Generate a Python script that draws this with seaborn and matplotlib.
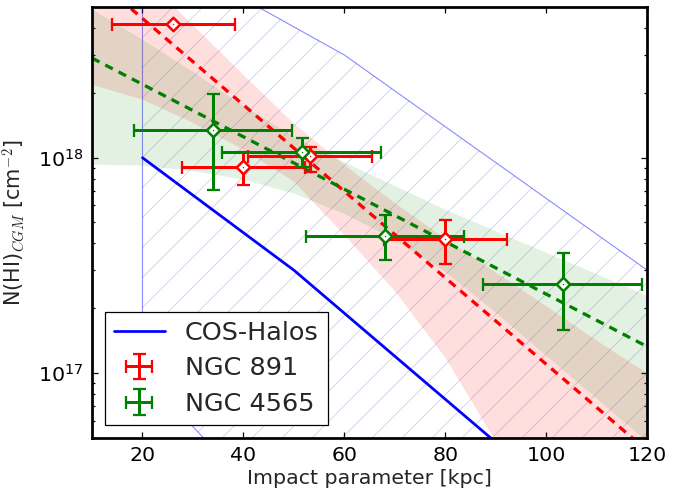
import numpy as np
import matplotlib
matplotlib.use("Agg")
import matplotlib.pyplot as plt
import seaborn as sns

# ---------------- data ----------------
ngc891_x = [26.1, 40.0, 53.2, 80.0]
ngc891_y = [4.18e18, 9.08e17, 1.017e18, 4.18e17]
ngc891_xerr = [12.2, 12.2, 12.2, 12.2]
ngc891_ylo = [4.18e18, 7.46e17, 8.58e17, 3.20e17]
ngc891_yhi = [4.18e18, 1.06e18, 1.116e18, 5.14e17]

ngc4565_x = [34.0, 51.5, 68.0, 103.2]
ngc4565_y = [1.34e18, 1.066e18, 4.34e17, 2.59e17]
ngc4565_xerr = [15.7, 15.7, 15.7, 15.8]
ngc4565_ylo = [7.08e17, 9.04e17, 3.35e17, 1.58e17]
ngc4565_yhi = [1.98e18, 1.24e18, 5.42e17, 3.59e17]

# exponential fits (log10 N at the ends of the x range)
fit_x = [10, 120]
fit891_logN = [18.848, 16.638]
fit4565_logN = [18.463, 17.122]

# confidence bands of the fits (log10 N)
band_x = [10, 20, 30, 40, 50, 60, 70, 80, 90, 100, 110, 120]
band891_hi = [19.076, 18.846, 18.616, 18.385, 18.158, 17.967, 17.789, 17.624, 17.466, 17.310, 17.150, 16.998]
band891_lo = [18.339, 18.270, 18.162, 18.037, 17.889, 17.640, 17.380, 17.070, 16.680, 16.186, 15.500, 15.000]
band4565_hi = [18.69, 18.55, 18.40, 18.24, 18.10, 17.98, 17.87, 17.76, 17.66, 17.56, 17.46, 17.36]
band4565_lo = [17.97, 17.965, 17.94, 17.90, 17.835, 17.74, 17.62, 17.47, 17.28, 17.08, 16.88, 16.68]

# COS-Halos median relation and envelope
cos_x = [20, 50, 100]
cos_N = [1e18, 3e17, 3e16]
cos_env_x = [20, 60, 120]
cos_env_hi = [1e19, 3e18, 3e17]
cos_env_lo = [1e17, 1e16, 1e15]

xticks = [20, 40, 60, 80, 100, 120]
labels = ["COS-Halos", "NGC 891", "NGC 4565"]

# ---------------- style ----------------
DPI = 180
sns.set_style("ticks")
plt.rcParams.update({
    "font.family": ["DejaVu Sans"],
    "mathtext.fontset": "cm",
    "axes.linewidth": 1.1,
    "axes.edgecolor": "black",
    "hatch.linewidth": 0.3,
    "xtick.direction": "in",
    "ytick.direction": "in",
    "xtick.top": True,
    "ytick.right": True,
    "xtick.major.size": 2.2,
    "ytick.major.size": 2.2,
    "xtick.minor.size": 1.2,
    "ytick.minor.size": 1.2,
    "xtick.major.width": 0.5,
    "ytick.major.width": 0.5,
    "xtick.minor.width": 0.5,
    "ytick.minor.width": 0.5,
    "xtick.major.pad": 3.5,
    "ytick.major.pad": 3.5,
    "xtick.labelsize": 8.2,
    "ytick.labelsize": 8.2,
    "xtick.color": "black",
    "ytick.color": "black",
})

fig = plt.figure(figsize=(685 / DPI, 491 / DPI), dpi=DPI)
ax = fig.add_axes([0.1343, 0.1086, 0.8107, 0.8765])
ax.set_yscale("log")
ax.set_xlim(10, 120)
ax.set_ylim(5e16, 5e18)

# COS-Halos envelope (hatched)
ax.fill_between(cos_env_x, cos_env_lo, cos_env_hi, facecolor="none",
                edgecolor=(0, 0, 1, 0.22), hatch="//", lw=0, zorder=1)
ax.fill_between(cos_env_x, cos_env_lo, cos_env_hi, facecolor="none",
                edgecolor=(0, 0, 1, 0.45), lw=0.45, zorder=1.1)

# fit confidence bands
ax.fill_between(band_x, 10 ** np.array(band891_lo), 10 ** np.array(band891_hi),
                color="red", alpha=0.13, lw=0, zorder=1.2)
ax.fill_between(band_x, 10 ** np.array(band4565_lo), 10 ** np.array(band4565_hi),
                color="green", alpha=0.11, lw=0, zorder=1.3)

# COS-Halos median
sns.lineplot(x=cos_x, y=cos_N, color="blue", lw=1.1, ax=ax, zorder=2)
cos_line = ax.lines[-1]

# fits
sns.lineplot(x=fit_x, y=10 ** np.array(fit891_logN), color="red", lw=1.3, ax=ax, zorder=2.5)
ax.lines[-1].set_linestyle((0, (2.6, 2.0)))
sns.lineplot(x=fit_x, y=10 ** np.array(fit4565_logN), color="green", lw=1.3, ax=ax, zorder=2.5)
ax.lines[-1].set_linestyle((0, (2.6, 2.0)))

# data points with error bars
def draw(xs, ys, xerr, ylo, yhi, color, label):
    ys = np.array(ys)
    yerr = [ys - np.array(ylo), np.array(yhi) - ys]
    eb = ax.errorbar(xs, ys, xerr=xerr, yerr=yerr, fmt="none", ecolor=color,
                     elinewidth=1.2, capsize=2.6, capthick=0.9, label=label, zorder=4)
    sns.scatterplot(x=xs, y=ys, marker="D", s=3.8 ** 2, color="white",
                    edgecolor=color, linewidth=1.0, ax=ax, zorder=5, legend=False)
    sns.scatterplot(x=xs, y=ys, marker="o", s=0.35, color=color,
                    linewidth=0, ax=ax, zorder=6, legend=False)
    return eb

eb891 = draw(ngc891_x, ngc891_y, ngc891_xerr, ngc891_ylo, ngc891_yhi, "red", labels[1])
eb4565 = draw(ngc4565_x, ngc4565_y, ngc4565_xerr, ngc4565_ylo, ngc4565_yhi, "green", labels[2])

ax.set_xticks(xticks)
ax.set_xticklabels([str(t) for t in xticks])
ax.set_xlim(10, 120)
ax.set_ylim(5e16, 5e18)

ax.set_xlabel("Impact parameter [kpc]", fontsize=8.2, labelpad=1.5)
ax.set_ylabel(r"N(HI)$_{CGM}$ [cm$^{-2}$]", fontsize=8.3, labelpad=4)

leg = ax.legend([cos_line, eb891, eb4565], labels, loc="lower left", fontsize=10.2,
                frameon=True, fancybox=False, shadow=False, framealpha=1,
                borderpad=0.35, labelspacing=0.46, handlelength=2.0,
                handletextpad=0.8, borderaxespad=0.5, numpoints=1)
leg.get_frame().set_edgecolor("black")
leg.get_frame().set_linewidth(0.5)
leg.set_zorder(10)

for s in ax.spines.values():
    s.set_linewidth(1.1)
    s.set_color("black")

fig.savefig("out.png", dpi=DPI)
